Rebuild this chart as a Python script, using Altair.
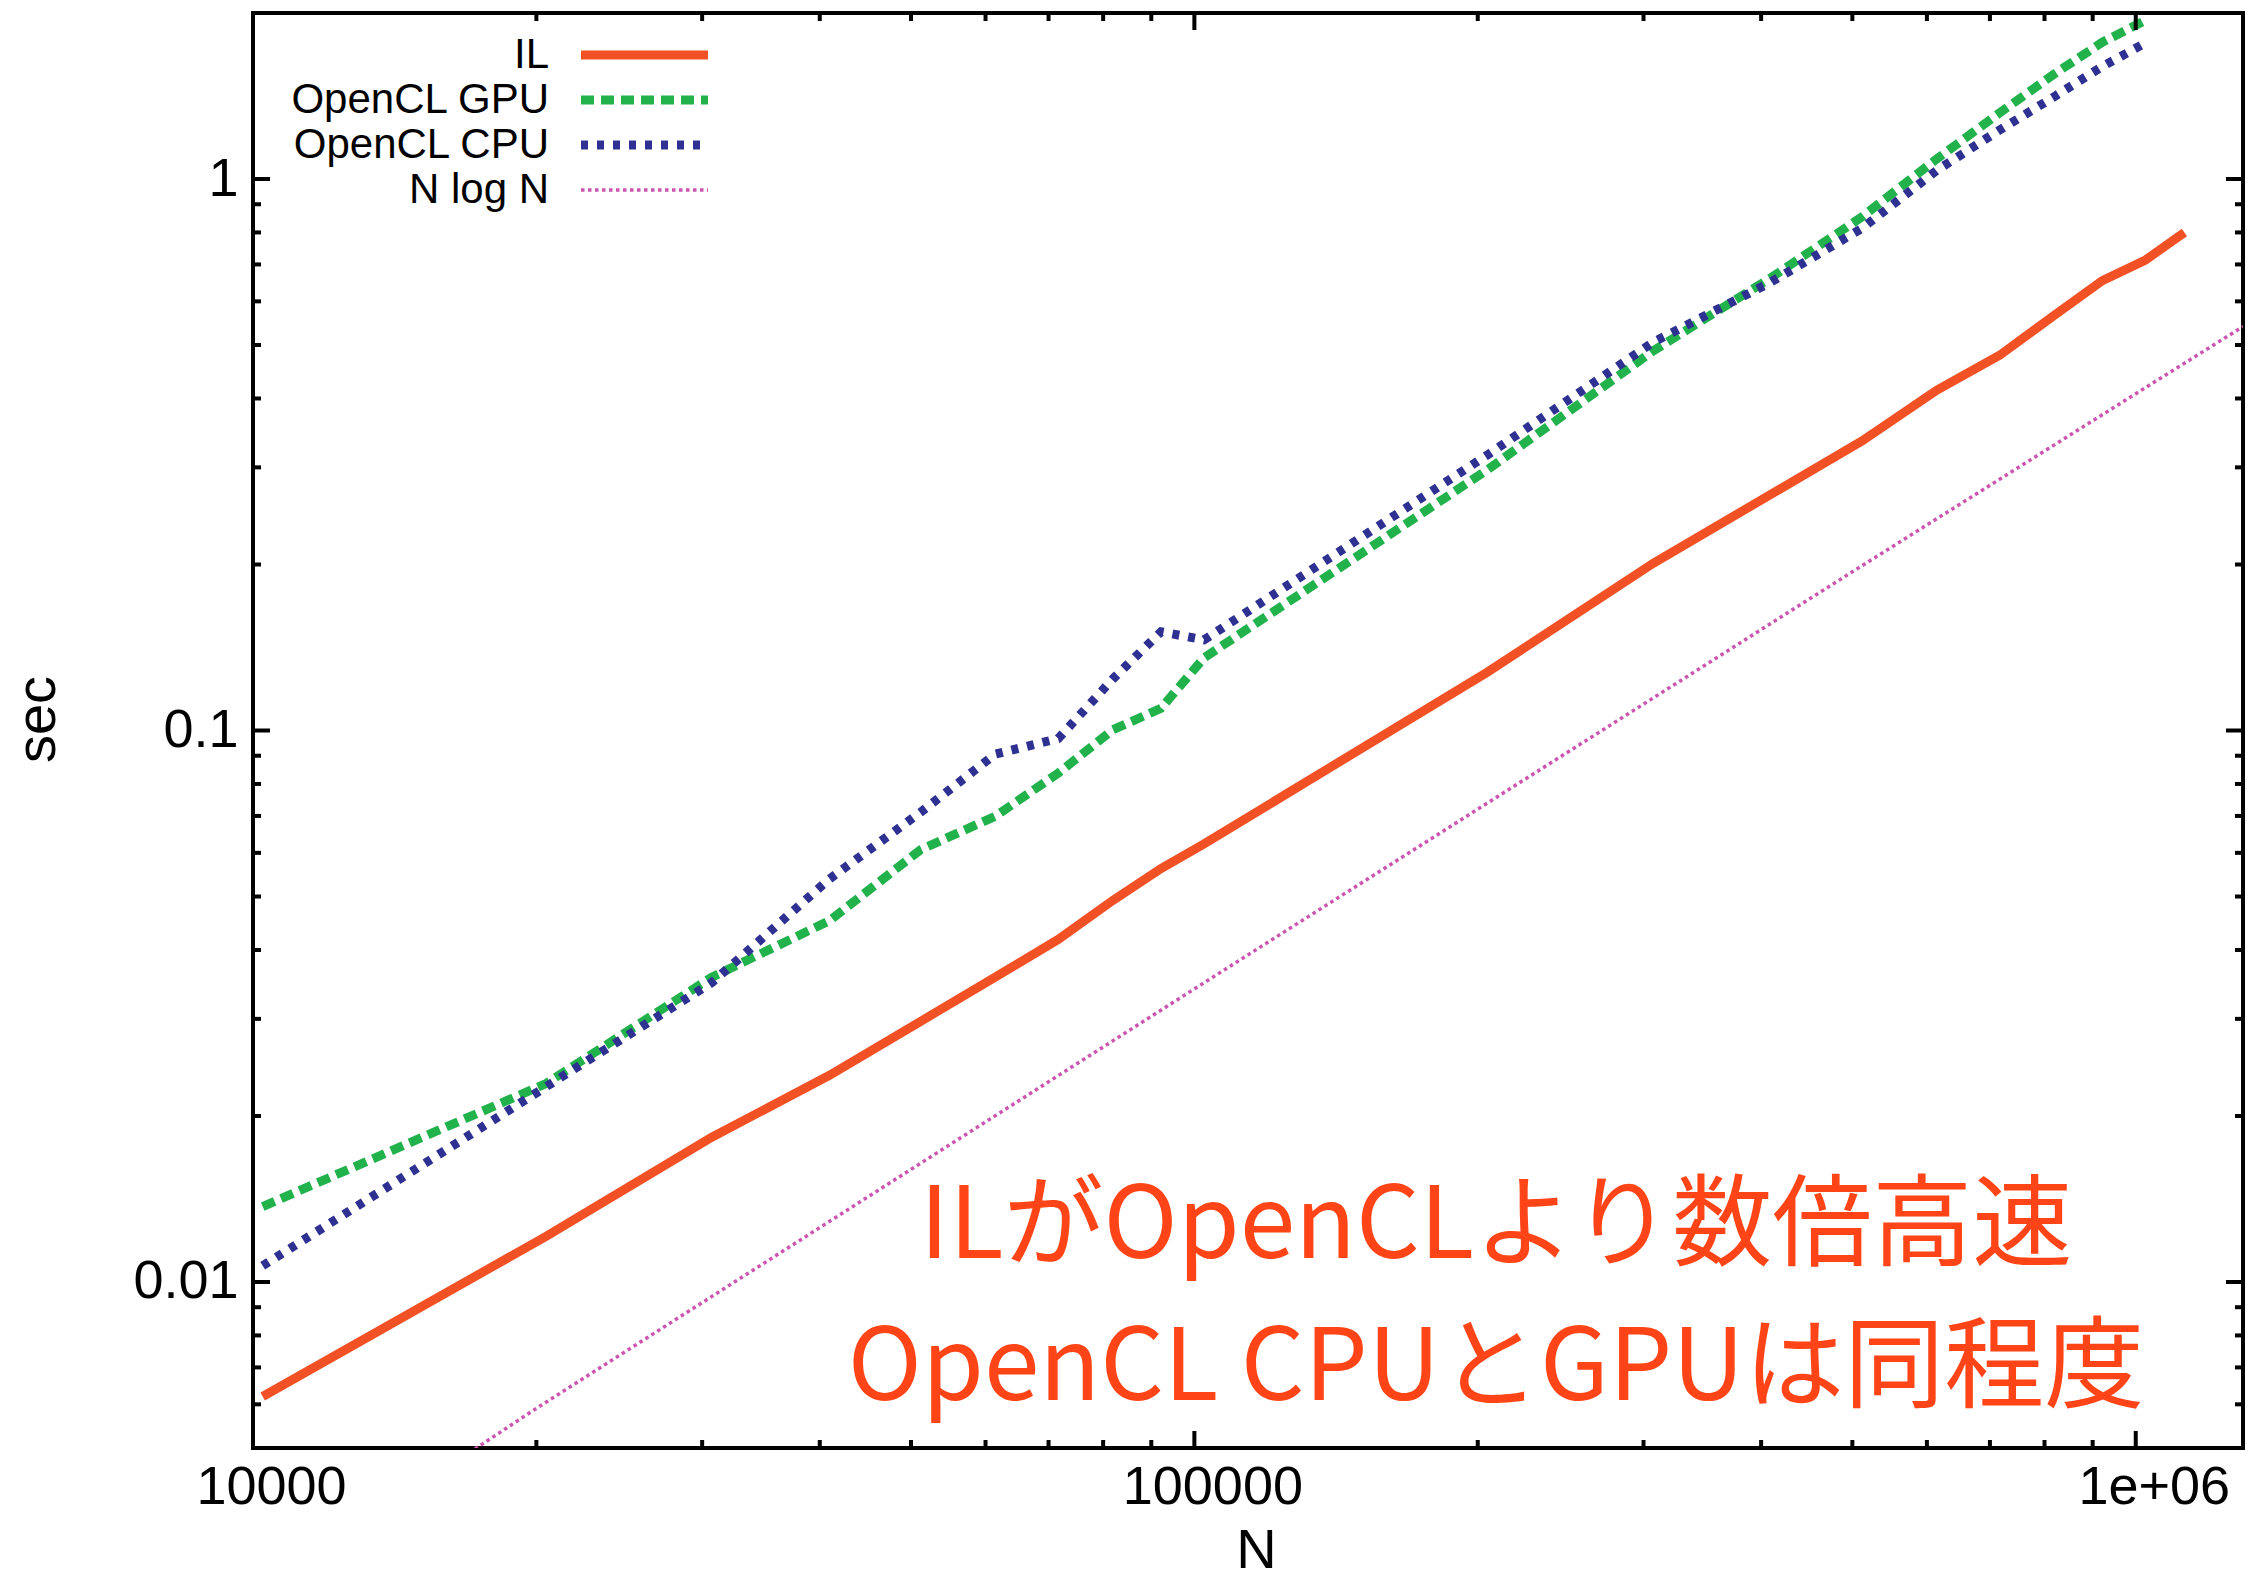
import altair as alt
import pandas as pd

# Problem sizes (N) and timings in seconds
N_VALUES = [10240, 20480, 30720, 40960, 51200, 61440, 71680, 81920, 92160,
            102400, 204800, 307200, 409600, 512000, 614400, 716800, 819200,
            921600, 1024000, 1126400]
IL_SEC = [0.0062, 0.0121, 0.0183, 0.0237, 0.0297, 0.0357, 0.0418, 0.0492,
          0.0562, 0.0623, 0.1276, 0.201, 0.268, 0.335, 0.414, 0.479, 0.566,
          0.654, 0.713, 0.80]
GPU_SEC = [0.0137, 0.0229, 0.0357, 0.0452, 0.0608, 0.0699, 0.0837, 0.1003,
           0.1097, 0.1355, 0.297, 0.488, 0.662, 0.854, 1.087, 1.318, 1.55,
           1.77, 1.94]
CPU_SEC = [0.0107, 0.0226, 0.0349, 0.0538, 0.0711, 0.0906, 0.0967, 0.124,
           0.151, 0.146, 0.316, 0.506, 0.65, 0.814, 1.036, 1.227, 1.41,
           1.60, 1.765]

# Reference N log N curve
NLOGN_N = [10000, 20000, 50000, 100000, 200000, 500000, 1000000, 1300000]
NLOGN_SEC = [0.0027, 0.0059, 0.016, 0.034, 0.072, 0.194, 0.408, 0.54]

# Axis ticks
X_MAJOR = [10000, 100000, 1000000]
X_MINOR = [20000, 30000, 40000, 50000, 60000, 70000, 80000, 90000,
           200000, 300000, 400000, 500000, 600000, 700000, 800000, 900000]
Y_MAJOR = [0.01, 0.1, 1]
Y_MINOR = [0.006, 0.007, 0.008, 0.009,
           0.02, 0.03, 0.04, 0.05, 0.06, 0.07, 0.08, 0.09,
           0.2, 0.3, 0.4, 0.5, 0.6, 0.7, 0.8, 0.9]

SERIES = ["IL", "OpenCL GPU", "OpenCL CPU", "N log N"]
NOTE_LINES = ["ILがOpenCLより数倍高速", "OpenCL CPUとGPUは同程度"]

W, H = 1990, 1435
FONT = "Liberation Sans"
JP_FONT = "Noto Sans CJK JP"

STYLES = {
    "IL": dict(color="#f15125", strokeWidth=9),
    "OpenCL GPU": dict(color="#22b24c", strokeWidth=9, strokeDash=[13, 7]),
    "OpenCL CPU": dict(color="#2e3192", strokeWidth=9, strokeDash=[7, 9]),
    "N log N": dict(color="#cc55b0", strokeWidth=3.5, strokeDash=[3.5, 3.5]),
}

x_scale = alt.Scale(type="log", domain=[10000, 1300000], nice=False)
y_scale = alt.Scale(type="log", domain=[0.005, 2], nice=False)

x_axis = alt.Axis(
    values=X_MAJOR,
    labelExpr="datum.value >= 1000000 ? '1e+06' : format(datum.value, 'd')",
    ticks=False, domain=False, grid=False,
    labelFont=FONT, labelFontSize=54, labelColor="black", labelPadding=12,
    labelOffset=18, labelLimit=600,
    labelOverlap=False, labelFlush=False, labelBound=False,
    title="N", titleFont=FONT, titleFontSize=56, titleFontWeight="normal",
    titleColor="black", titleX=W / 2 + 8, titleY=102,
    titleAlign="center", titleBaseline="middle",
)
y_axis = alt.Axis(
    values=Y_MAJOR, format="~g",
    ticks=False, domain=False, grid=False,
    labelFont=FONT, labelFontSize=54, labelColor="black", labelPadding=15,
    labelLimit=600,
    labelOverlap=False, labelFlush=False, labelBound=False,
    title="sec", titleFont=FONT, titleFontSize=56, titleFontWeight="normal",
    titleColor="black", titleAngle=270, titleX=-216, titleY=706,
    titleAlign="center", titleBaseline="middle",
)


def series_line(ns, secs, name):
    df = pd.DataFrame({"N": ns, "sec": secs})
    return alt.Chart(df).mark_line(clip=True, strokeCap="butt", **STYLES[name]).encode(
        x=alt.X("N:Q", scale=x_scale, axis=x_axis),
        y=alt.Y("sec:Q", scale=y_scale, axis=y_axis),
    )


lines = [
    series_line(N_VALUES, IL_SEC, "IL"),
    series_line(N_VALUES[:len(GPU_SEC)], GPU_SEC, "OpenCL GPU"),
    series_line(N_VALUES[:len(CPU_SEC)], CPU_SEC, "OpenCL CPU"),
    series_line(NLOGN_N, NLOGN_SEC, "N log N"),
]

# Inward-pointing ticks on all four sides of the frame
MAJOR_LEN, MINOR_LEN = 17, 8
ticks = []
for values, length in ((X_MAJOR, MAJOR_LEN), (X_MINOR, MINOR_LEN)):
    df = pd.DataFrame({"v": values})
    xenc = alt.X("v:Q", scale=x_scale, axis=x_axis)
    ticks.append(alt.Chart(df).mark_rule(color="black", strokeWidth=4).encode(
        x=xenc, y=alt.value(H - length), y2=alt.value(H)))
    ticks.append(alt.Chart(df).mark_rule(color="black", strokeWidth=4).encode(
        x=xenc, y=alt.value(0), y2=alt.value(length)))
for values, length in ((Y_MAJOR, MAJOR_LEN), (Y_MINOR, MINOR_LEN)):
    df = pd.DataFrame({"v": values})
    yenc = alt.Y("v:Q", scale=y_scale, axis=y_axis)
    ticks.append(alt.Chart(df).mark_rule(color="black", strokeWidth=4).encode(
        y=yenc, x=alt.value(0), x2=alt.value(length)))
    ticks.append(alt.Chart(df).mark_rule(color="black", strokeWidth=4).encode(
        y=yenc, x=alt.value(W - length), x2=alt.value(W)))

# Key in the upper-left corner: label on the left, line sample on the right
legend = []
for i, name in enumerate(SERIES):
    ly = 42 + i * 45
    legend.append(alt.Chart(pd.DataFrame({"t": [name]})).mark_text(
        align="right", baseline="middle", font=FONT, fontSize=42, color="black"
    ).encode(x=alt.value(296), y=alt.value(ly), text="t:N"))
    legend.append(alt.Chart(pd.DataFrame({"t": [name]})).mark_rule(
        strokeCap="butt", **STYLES[name]
    ).encode(x=alt.value(328), x2=alt.value(455), y=alt.value(ly)))

# Two-line note in the lower right
notes = []
for i, line in enumerate(NOTE_LINES):
    notes.append(alt.Chart(pd.DataFrame({"t": [line]})).mark_text(
        align="center", baseline="middle", font=JP_FONT, fontSize=100,
        color="#ff4517"
    ).encode(x=alt.value(1243), y=alt.value(1215 + i * 142), text="t:N"))

chart = alt.layer(*lines, *ticks, *legend, *notes).properties(
    width=W, height=H,
    autosize=alt.AutoSizeParams(type="none"),
    padding={"left": 253, "top": 13, "right": 23, "bottom": 130},
    background="white",
).configure_view(stroke="black", strokeWidth=4)

chart.save("out.html", embed_options={"renderer": "svg", "actions": False})
